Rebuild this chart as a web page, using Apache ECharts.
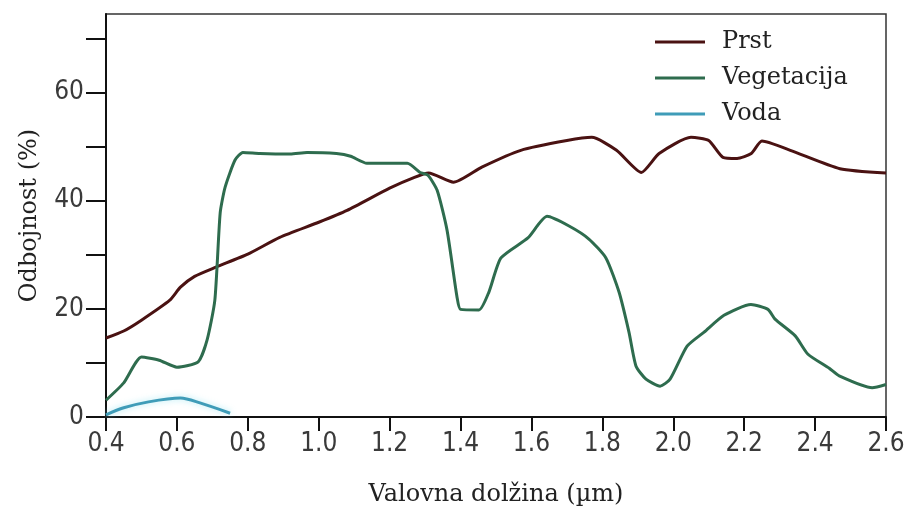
<!DOCTYPE html>
<html>
<head>
<meta charset="utf-8">
<script src="https://cdn.jsdelivr.net/npm/echarts@6/dist/echarts.min.js"></script>
<style>
  html, body { margin: 0; padding: 0; background: #fff; }
  #chart { width: 913px; height: 515px; }
</style>
</head>
<body>
<div id="chart"></div>
<script>
// Spectral reflectance curves: [wavelength in µm, reflectance in %]
const prst = [
  [0.40, 14.6], [0.45, 15.9], [0.50, 17.9], [0.58, 21.6], [0.61, 24.0],
  [0.65, 26.0], [0.71, 27.7], [0.80, 30.1], [0.89, 33.2], [1.00, 36.0],
  [1.08, 38.2], [1.20, 42.3], [1.27, 44.3], [1.31, 45.1], [1.38, 43.4],
  [1.46, 46.2], [1.57, 49.3], [1.70, 51.1], [1.77, 51.7], [1.84, 49.3],
  [1.91, 45.2], [1.96, 48.7], [2.05, 51.7], [2.10, 51.1], [2.14, 48.0],
  [2.18, 47.8], [2.22, 48.7], [2.25, 51.0], [2.33, 49.3], [2.47, 45.9],
  [2.60, 45.1]
];
const vegetacija = [
  [0.40, 3.1], [0.45, 6.3], [0.50, 11.1], [0.55, 10.5], [0.60, 9.2],
  [0.66, 10.2], [0.685, 14.2], [0.707, 21.6], [0.722, 37.7], [0.736, 42.5],
  [0.764, 47.5], [0.786, 48.9], [0.834, 48.7], [0.92, 48.6], [0.967, 48.9],
  [1.05, 48.7], [1.09, 48.2], [1.136, 46.9], [1.25, 46.9], [1.286, 45.2],
  [1.308, 44.7], [1.334, 41.9], [1.362, 34.5], [1.39, 22.2], [1.40, 19.9],
  [1.452, 19.8], [1.48, 23.1], [1.514, 29.4], [1.59, 33.1], [1.644, 37.1],
  [1.706, 35.3], [1.762, 32.9], [1.81, 29.4], [1.847, 23.1], [1.875, 15.7],
  [1.895, 9.4], [1.923, 7.0], [1.963, 5.7], [1.991, 7.0], [2.039, 13.1],
  [2.087, 15.7], [2.143, 18.8], [2.219, 20.8], [2.267, 19.9], [2.287, 18.1],
  [2.344, 15.0], [2.38, 11.6], [2.44, 9.0], [2.468, 7.6], [2.561, 5.4],
  [2.60, 6.0]
];
const voda = [
  [0.40, 0.4], [0.45, 1.7], [0.52, 2.8], [0.61, 3.5], [0.665, 2.6], [0.75, 0.7]
];

const seriesNames = ['Prst', 'Vegetacija', 'Voda'];
const seriesColors = ['#4a1212', '#2e6c4e', '#3f9cb8'];
const yTicks = [0, 10, 20, 30, 40, 50, 60, 70];
const yLabels = [0, 20, 40, 60];

const serif = '"DejaVu Serif", "Liberation Serif", serif';
const narrow = '"Liberation Sans Narrow", "DejaVu Sans Condensed", sans-serif';

const chart = echarts.init(document.getElementById('chart'), null, { renderer: 'canvas' });

chart.setOption({
  backgroundColor: '#ffffff',
  animation: false,
  grid: {
    left: 106, right: 27, top: 14, bottom: 98,
    outerBoundsMode: 'none',
    show: true, borderColor: '#333', borderWidth: 1.5, backgroundColor: 'transparent'
  },
  legend: {
    orient: 'vertical',
    left: 655, top: 29, padding: 0,
    icon: 'rect',
    itemWidth: 50, itemHeight: 3,
    itemGap: 10,
    textStyle: { fontFamily: serif, fontSize: 24, color: '#222', lineHeight: 26, padding: [0, 0, 0, 12] },
    data: seriesNames
  },
  xAxis: {
    type: 'value',
    min: 0.4, max: 2.6, interval: 0.2,
    name: 'Valovna dolžina (µm)',
    nameLocation: 'middle', nameGap: 66,
    nameTextStyle: { fontFamily: serif, fontSize: 24, color: '#222' },
    axisLine: { show: true, lineStyle: { color: '#111', width: 2 } },
    axisTick: { show: true, inside: false, length: 14, lineStyle: { color: '#111', width: 2 } },
    axisLabel: {
      fontFamily: narrow, fontSize: 26, color: '#3a3a3a', margin: 14,
      formatter: v => v.toFixed(1)
    },
    splitLine: { show: false }
  },
  yAxis: {
    type: 'value',
    min: 0, max: 74.5,
    name: 'Odbojnost (%)',
    nameLocation: 'middle', nameGap: 64, nameRotate: 90,
    nameTextStyle: { fontFamily: serif, fontSize: 24, color: '#222' },
    axisLine: { show: true, lineStyle: { color: '#111', width: 2 } },
    axisTick: { show: true, length: 20, customValues: yTicks, lineStyle: { color: '#111', width: 2 } },
    axisLabel: {
      fontFamily: narrow, fontSize: 26, color: '#3a3a3a', margin: 22,
      customValues: yLabels
    },
    splitLine: { show: false }
  },
  series: [
    {
      name: seriesNames[0], type: 'line', data: prst, showSymbol: false, symbol: 'none',
      smooth: 0.2, color: seriesColors[0], lineStyle: { width: 3, color: seriesColors[0] }
    },
    {
      name: seriesNames[1], type: 'line', data: vegetacija, showSymbol: false, symbol: 'none',
      smooth: 0.2, color: seriesColors[1], lineStyle: { width: 3, color: seriesColors[1] }
    },
    {
      name: seriesNames[2], type: 'line', data: voda, showSymbol: false, symbol: 'none',
      smooth: 0.3, color: seriesColors[2],
      lineStyle: { width: 3, color: seriesColors[2], shadowColor: 'rgba(140,225,240,0.7)', shadowBlur: 6 }
    }
  ]
});
</script>
</body>
</html>
